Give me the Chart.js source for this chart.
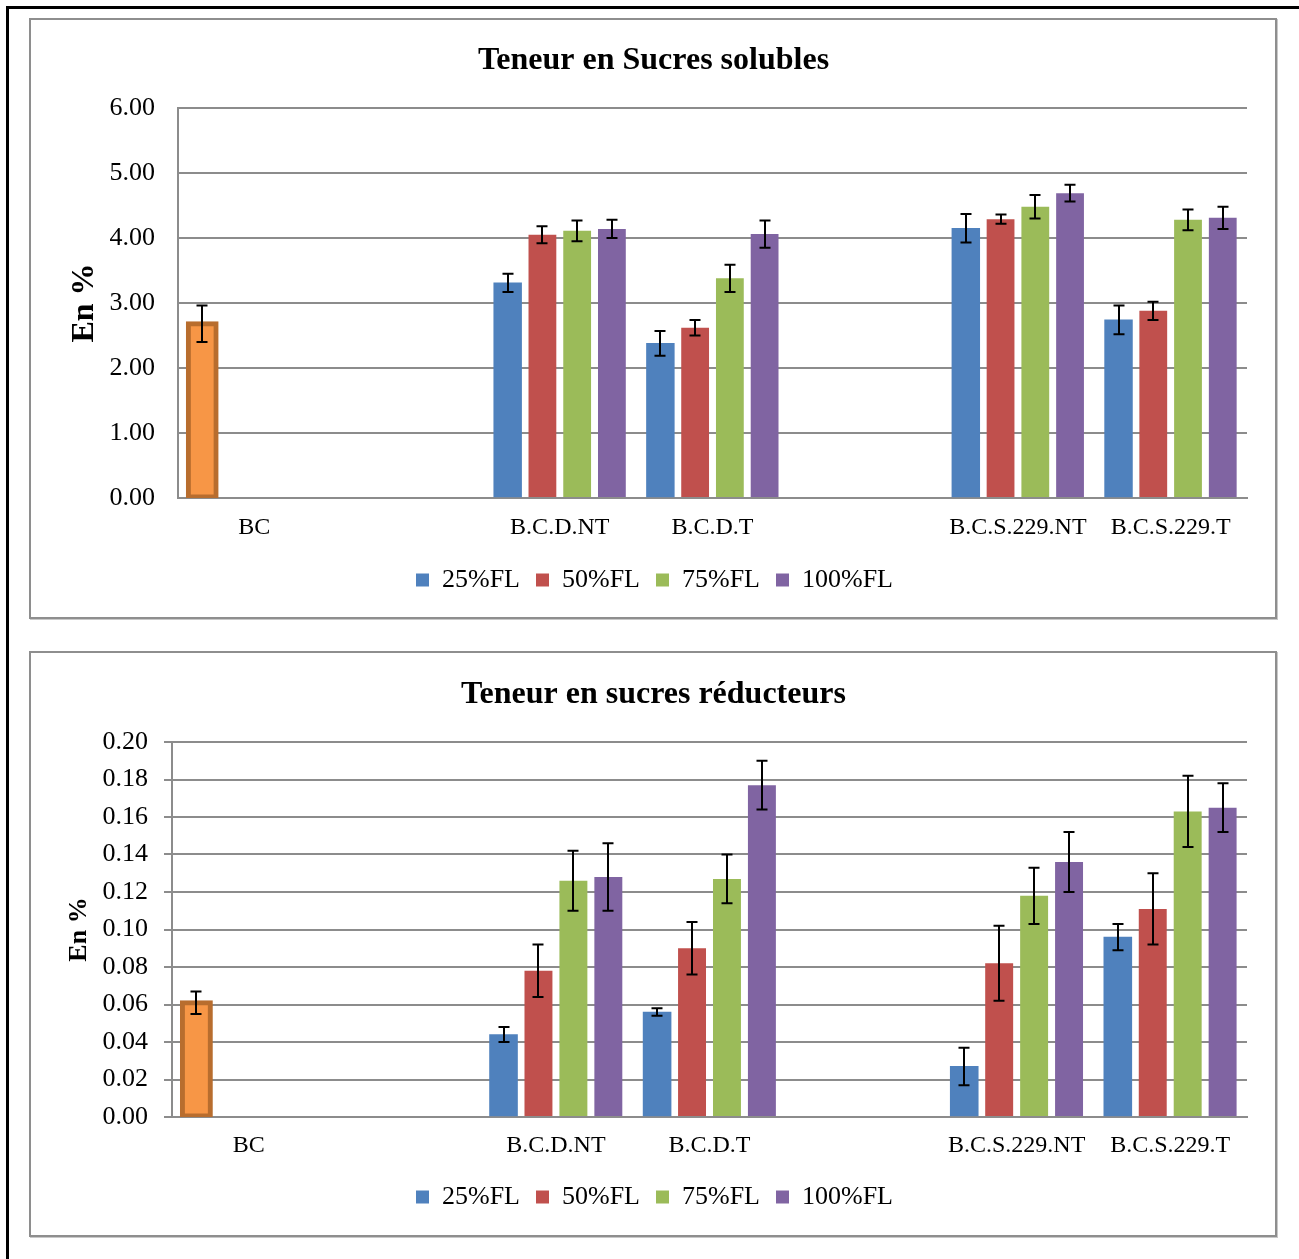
<!DOCTYPE html>
<html lang="fr">
<head>
<meta charset="utf-8">
<title>Teneur en sucres</title>
<script src="https://cdn.jsdelivr.net/npm/chart.js@4.4.1/dist/chart.umd.min.js"></script>
<style>
  html, body { margin: 0; padding: 0; background: #fff; }
  body { width: 1299px; height: 1259px; position: relative; overflow: hidden; }
  .frame { position: absolute; left: 6px; top: 6px; width: 1400px; height: 1400px;
           border-top: 3px solid #000; border-left: 3px solid #000; box-sizing: border-box; }
  .box { position: absolute; border: 2px solid #8e8e8e; box-sizing: border-box;
         box-shadow: 1px 1px 0 #c8c8c8; background: #fff; }
  canvas { position: absolute; }
</style>
</head>
<body>
<div class="frame"></div>
<div class="box" style="left:29px; top:18px; width:1248px; height:601px;"></div>
<div class="box" style="left:29px; top:651px; width:1248px; height:586px;"></div>
<canvas id="solubles" width="1246" height="599" style="left:30px; top:19px;"></canvas>
<canvas id="reducteurs" width="1246" height="584" style="left:30px; top:652px;"></canvas>
<script>
// Categories (two empty slots separate the groups)
const categories = ['BC', '', 'B.C.D.NT', 'B.C.D.T', '', 'B.C.S.229.NT', 'B.C.S.229.T'];
const seriesNames = ['25%FL', '50%FL', '75%FL', '100%FL'];

// Sucres solubles (%)
const solubles25  = [2.68, null, 3.31, 2.38, null, 4.15, 2.74];
const solubles50  = [null, null, 4.05, 2.62, null, 4.29, 2.88];
const solubles75  = [null, null, 4.11, 3.38, null, 4.48, 4.28];
const solubles100 = [null, null, 4.14, 4.06, null, 4.69, 4.31];
const solublesErr25  = [0.28, null, 0.14, 0.19, null, 0.22, 0.22];
const solublesErr50  = [null, null, 0.13, 0.12, null, 0.07, 0.14];
const solublesErr75  = [null, null, 0.16, 0.21, null, 0.18, 0.16];
const solublesErr100 = [null, null, 0.14, 0.21, null, 0.13, 0.17];

// Sucres réducteurs (%)
const reducteurs25  = [0.061, null, 0.044, 0.056, null, 0.027, 0.096];
const reducteurs50  = [null, null, 0.078, 0.090, null, 0.082, 0.111];
const reducteurs75  = [null, null, 0.126, 0.127, null, 0.118, 0.163];
const reducteurs100 = [null, null, 0.128, 0.177, null, 0.136, 0.165];
const reducteursErr25  = [0.006, null, 0.004, 0.002, null, 0.010, 0.007];
const reducteursErr50  = [null, null, 0.014, 0.014, null, 0.020, 0.019];
const reducteursErr75  = [null, null, 0.016, 0.013, null, 0.015, 0.019];
const reducteursErr100 = [null, null, 0.018, 0.013, null, 0.016, 0.013];

// Axis ranges
const solublesAxis = { min: 0, max: 6, step: 1 };
const reducteursAxis = { min: 0, max: 0.2, step: 0.02 };

const colors = ['#4F81BD', '#C0504D', '#9BBB59', '#8064A2'];
const controlFill = '#F79646';
const controlBorder = '#B86D2E';
const gridGray = '#8c8c8c';
const serif = "'Liberation Serif', 'Times New Roman', serif";

Chart.defaults.font.family = serif;
Chart.defaults.color = '#000';

// Vertical error bars with caps, placed on each bar through the y scale
const errorBarPlugin = {
  id: 'errorBars',
  afterDatasetsDraw(chart) {
    const ctx = chart.ctx;
    const y = chart.scales.y;
    ctx.save();
    ctx.strokeStyle = '#000';
    ctx.lineWidth = 2;
    chart.data.datasets.forEach((ds, i) => {
      const meta = chart.getDatasetMeta(i);
      if (meta.hidden) return;
      meta.data.forEach((bar, j) => {
        const v = ds.data[j];
        const e = ds.errorBars ? ds.errorBars[j] : null;
        if (v == null || e == null) return;
        const top = y.getPixelForValue(v + e);
        const bot = y.getPixelForValue(v - e);
        const x = Math.round(bar.x);
        const cap = 5.5;
        ctx.beginPath();
        ctx.moveTo(x, top); ctx.lineTo(x, bot);
        ctx.moveTo(x - cap, top); ctx.lineTo(x + cap, top);
        ctx.moveTo(x - cap, bot); ctx.lineTo(x + cap, bot);
        ctx.stroke();
      });
    });
    ctx.restore();
  }
};

// Centres the title and legend on the whole panel rather than the padded area
const blockShiftPlugin = {
  id: 'blockShift',
  afterLayout(chart, args, opts) {
    const shift = (box, dx) => {
      if (!box || !dx) return;
      box.left += dx;
      box.right += dx;
    };
    shift(chart.titleBlock, opts.titleDx);
    shift(chart.legend, opts.legendDx);
  }
};

function buildDatasets(values, errors) {
  return seriesNames.map((name, i) => {
    const ds = {
      label: name,
      data: values[i],
      errorBars: errors[i],
      backgroundColor: colors[i],
      borderWidth: 0,
      categoryPercentage: 0.91,
      barPercentage: 0.8
    };
    if (i === 0) {
      // the control (BC) bar uses its own orange fill and a thick outline
      ds.backgroundColor = values[i].map((v, j) => j === 0 ? controlFill : colors[0]);
      ds.borderColor = values[i].map((v, j) => j === 0 ? controlBorder : colors[0]);
      ds.borderWidth = values[i].map((v, j) => j === 0 ? 5 : 0);
      ds.inflateAmount = values[i].map((v, j) => j === 0 ? 2.5 : 0.33);
      ds.borderSkipped = false;
    }
    return ds;
  });
}

function makeChart(id, title, values, errors, axis, cfg) {
  return new Chart(document.getElementById(id), {
    type: 'bar',
    data: { labels: categories, datasets: buildDatasets(values, errors) },
    plugins: [errorBarPlugin, blockShiftPlugin],
    options: {
      responsive: false,
      animation: false,
      devicePixelRatio: 1,
      layout: { padding: { left: 0, right: 29, top: 0, bottom: cfg.bottomPad } },
      plugins: {
        blockShift: { titleDx: 15, legendDx: 16 },
        title: {
          display: true,
          text: title,
          font: { size: 32, weight: 'bold', family: serif },
          color: '#000',
          padding: { top: cfg.titleTop, bottom: cfg.titleBottom }
        },
        legend: {
          display: true,
          position: 'bottom',
          labels: {
            font: { size: 26, family: serif },
            color: '#000',
            boxWidth: 13,
            boxHeight: 13,
            padding: 16,
            generateLabels(chart) {
              return chart.data.datasets.map((ds, i) => ({
                text: ds.label,
                fillStyle: colors[i],
                strokeStyle: colors[i],
                lineWidth: 0,
                hidden: false,
                datasetIndex: i
              }));
            }
          }
        },
        tooltip: { enabled: false }
      },
      scales: {
        x: {
          grid: { display: false, drawTicks: false },
          border: { display: true, color: gridGray, width: 2 },
          ticks: { font: { size: 24, family: serif }, color: '#000', padding: cfg.xPad, maxRotation: 0, autoSkip: false },
          afterFit(scale) { scale.height = cfg.xHeight; }
        },
        y: {
          min: axis.min,
          max: axis.max,
          grid: { color: gridGray, lineWidth: 2, drawTicks: cfg.yTicks, tickLength: 8 },
          border: { display: true, color: gridGray, width: 2 },
          ticks: {
            stepSize: axis.step,
            font: { size: 26, family: serif },
            color: '#000',
            padding: cfg.yPad,
            callback: (v) => Number(v).toFixed(2)
          },
          title: {
            display: true,
            text: 'En %',
            font: { size: cfg.yTitleSize, weight: 'bold', family: serif },
            color: '#000',
            padding: { top: cfg.yTitleTop, bottom: 0 }
          },
          afterFit(scale) { scale.width = cfg.yWidth; }
        }
      }
    }
  });
}

makeChart('solubles', 'Teneur en Sucres solubles',
  [solubles25, solubles50, solubles75, solubles100],
  [solublesErr25, solublesErr50, solublesErr75, solublesErr100],
  solublesAxis,
  { bottomPad: 15, titleTop: 22.8, titleBottom: 27.8, xPad: 15, xHeight: 53,
    yTicks: false, yPad: 23, yWidth: 148, yTitleSize: 32, yTitleTop: 35.8 });

makeChart('reducteurs', 'Teneur en sucres réducteurs',
  [reducteurs25, reducteurs50, reducteurs75, reducteurs100],
  [reducteursErr25, reducteursErr50, reducteursErr75, reducteursErr100],
  reducteursAxis,
  { bottomPad: 16, titleTop: 23.8, titleBottom: 27.8, xPad: 14, xHeight: 51,
    yTicks: true, yPad: 16, yWidth: 142, yTitleSize: 26, yTitleTop: 34 });
</script>
</body>
</html>
